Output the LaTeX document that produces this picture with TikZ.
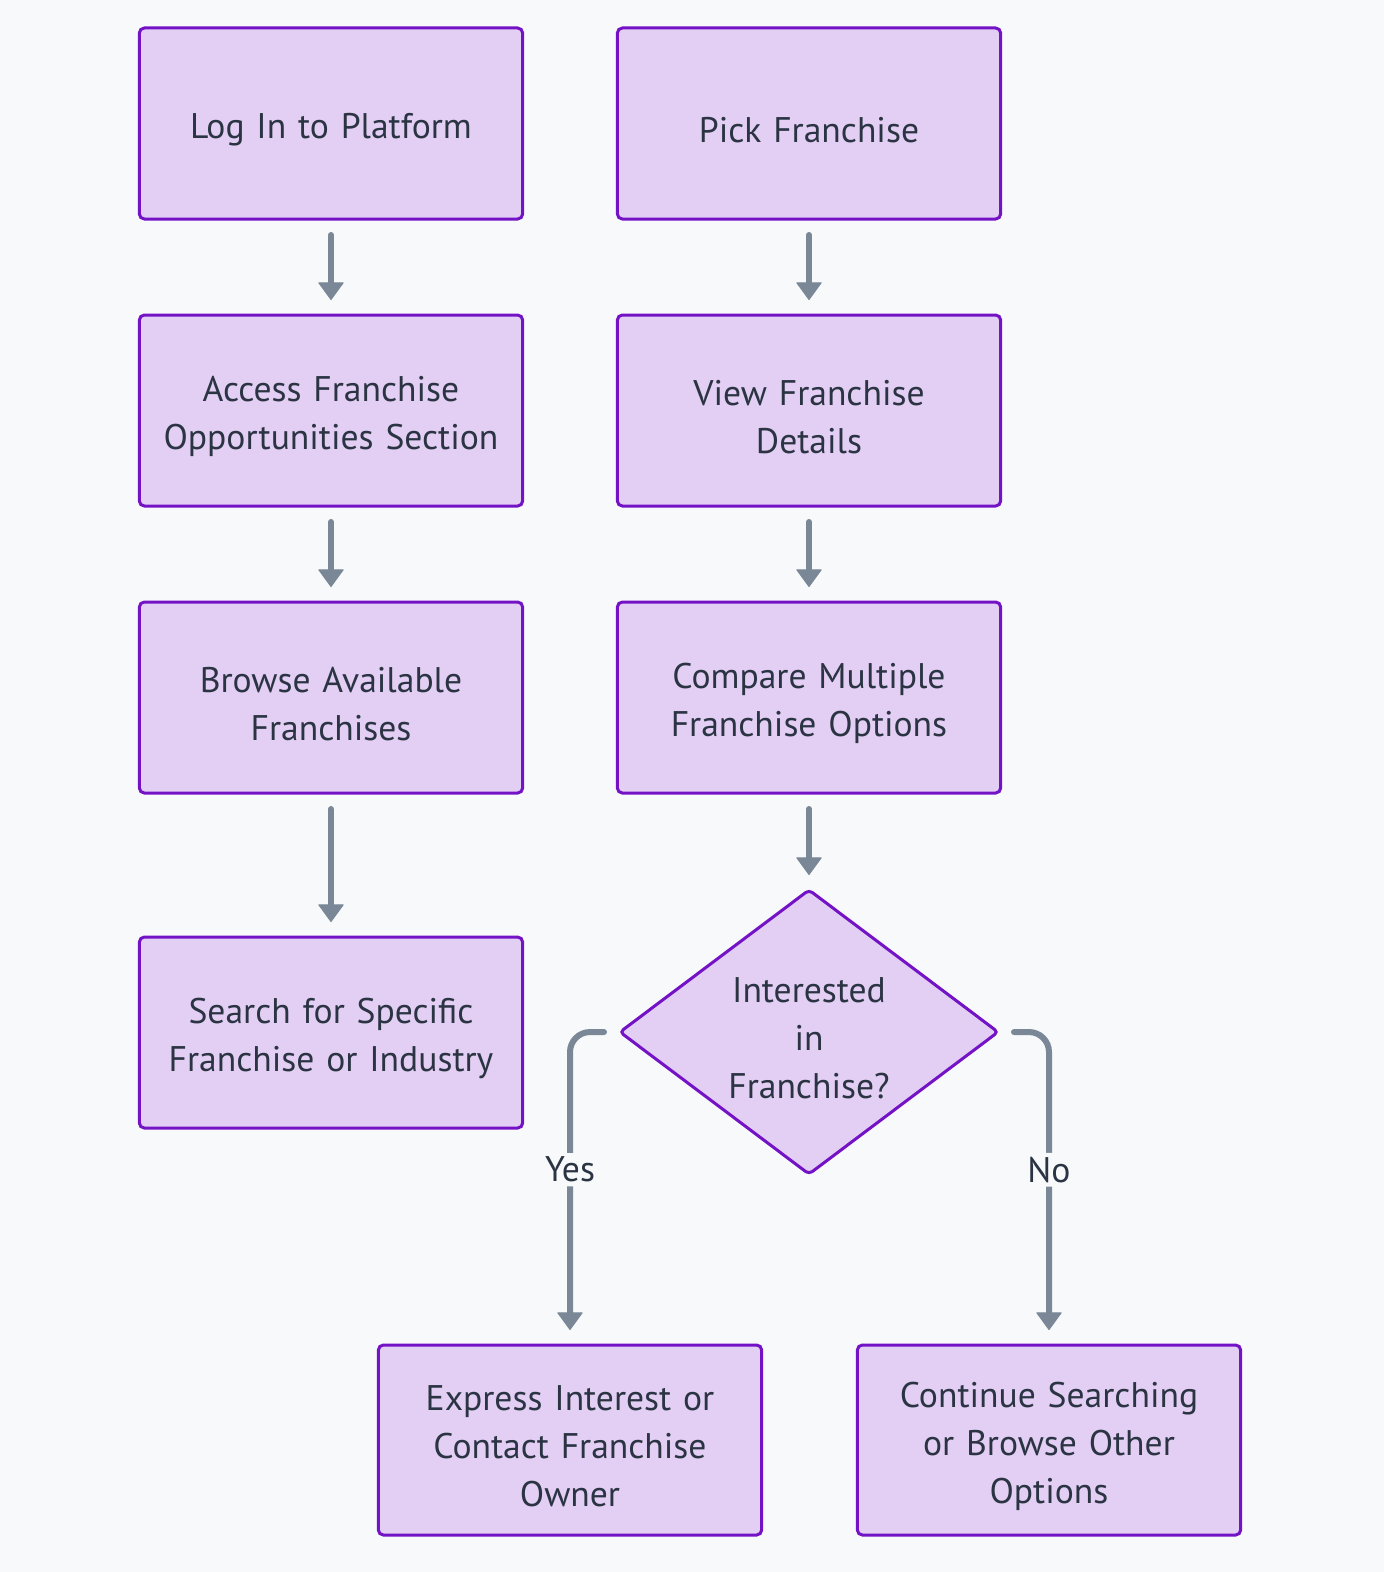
\documentclass[tikz,border=0pt]{standalone}
\usepackage{fontspec}
\setmainfont{PT Sans}
\usetikzlibrary{positioning}
\usetikzlibrary{arrows.meta}
\usetikzlibrary{shapes.geometric}

\definecolor{bgcol}{HTML}{F8F9FB}
\definecolor{boxfill}{HTML}{E3CEF4}
\definecolor{boxline}{HTML}{7413C6}
\definecolor{txtcol}{HTML}{2B3443}
\definecolor{arrcol}{HTML}{798796}

\begin{document}
\begin{tikzpicture}[x=0.5bp,y=-0.5bp,font=\fontsize{17.8bp}{24bp}\selectfont,text=txtcol,
	stepbox/.style={minimum width=191bp,minimum height=95.5bp,text width=185bp,outer sep=0pt,draw=boxline,fill=boxfill,line width=1.5bp,rounded corners=2.5bp,align=center,execute at begin node={\rule{0pt}{19bp}}},
	flow/.style={draw=arrcol,line width=3bp,line cap=round,-{Triangle[width=13bp,length=9bp,line width=0.5bp,round]},shorten <=8bp,shorten >=7.5bp}]
	\fill [bgcol] (0,0) rectangle (1384,1572);
	\useasboundingbox (0,0) rectangle (1384,1572);

	\node [stepbox] at (331,123.5) (login) {Log In to Platform};
	\node [stepbox,below=48bp of login] (access) {Access Franchise\\Opportunities Section};
	\node [stepbox,below=48bp of access] (browse) {Browse Available\\Franchises};
	\node [stepbox,below=72bp of browse] (search) {Search for Specific\\Franchise or Industry};

	\node [stepbox] at (809,123.5) (pick) {Pick Franchise};
	\node [stepbox,below=48bp of pick] (view) {View Franchise\\Details};
	\node [stepbox,below=48bp of view] (compare) {Compare Multiple\\Franchise Options};
	\node [stepbox,diamond,shape aspect=1.33,minimum width=189bp,minimum height=142bp,text width=84bp,inner sep=0pt,rounded corners=2bp,below=48.5bp of compare] (interest) {Interested\\in\\Franchise?};

	\node [stepbox,minimum height=95bp] at (570,1440) (express) {Express Interest or\\Contact Franchise\\Owner};
	\node [stepbox,minimum height=95bp] at (1049,1440) (goon) {Continue Searching\\or Browse Other\\Options};

	\draw [flow] (login) -- (access);
	\draw [flow] (access) -- (browse);
	\draw [flow] (browse) -- (search);
	\draw [flow] (pick) -- (view);
	\draw [flow] (view) -- (compare);
	\draw [flow] (compare) -- (interest);
	\draw [flow,rounded corners=10bp] (interest.west) -| node[pos=0.72,fill=bgcol,inner sep=2bp] (yes_lbl) {Yes} (express);
	\draw [flow,rounded corners=10bp] (interest.east) -| node[pos=0.72,fill=bgcol,inner sep=2bp] (no_lbl) {No} (goon);
\end{tikzpicture}
\end{document}
